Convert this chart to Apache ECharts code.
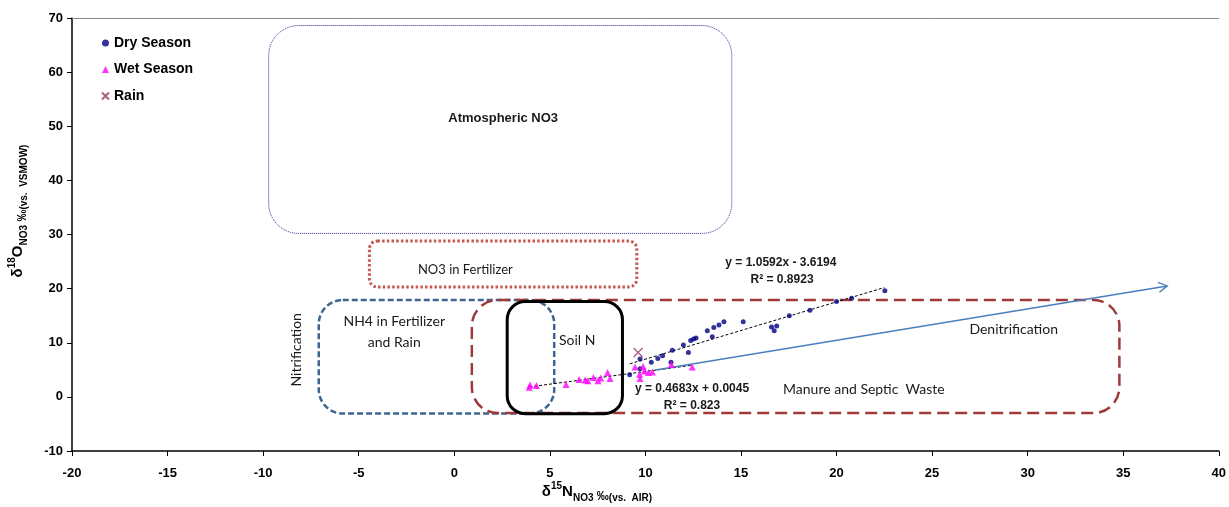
<!DOCTYPE html>
<html><head><meta charset="utf-8">
<script src="https://cdn.jsdelivr.net/npm/echarts@6/dist/echarts.min.js"></script>
<style>html,body{margin:0;padding:0;background:#fff}#c{width:1229px;height:507px}</style>
</head><body><div id="c"></div>
<script>
// ---- data ----
const drySeason = [
  [9.18,4.1],[9.72,5.2],[9.72,7.0],[10.31,6.4],[10.65,7.1],[10.9,7.6],[11.34,6.4],
  [11.41,8.6],[11.99,9.6],[12.25,8.2],[12.37,10.4],[12.52,10.7],[12.65,10.9],[13.24,12.2],
  [13.5,11.1],[13.58,12.8],[13.85,13.3],[14.11,13.9],[15.12,13.9],[16.6,12.9],[16.87,13.1],
  [16.74,12.2],[17.53,15.0],[18.61,16.0],[20.0,17.6],[20.79,18.2],[22.53,19.6]
];
const wetSeason = [
  [3.92,1.8],[3.97,2.2],[4.3,2.1],[5.85,2.3],[6.53,3.2],[6.85,3.1],[6.99,3.0],[7.28,3.6],
  [7.52,3.0],[7.66,3.5],[8.02,4.5],[8.15,3.4],[9.46,5.5],[9.7,4.2],[9.72,3.4],[9.88,5.6],
  [9.95,4.8],[10.16,4.5],[10.37,4.6],[11.36,6.0],[12.45,5.5]
];
const rain = [[9.62,8.2]];
const dryTrend = [[9.18,6.1],[22.5,20.2]];
const wetTrend = [[3.92,1.84],[12.45,5.84]];
const denitrificationArrow = [[10.54,4.97],[37.3,20.5]];
const seriesNames = ['Dry Season','Wet Season','Rain'];
const xRange = [-20, 40, 5];
const yRange = [-10, 70, 10];
const dryEquation = ['y = 1.0592x - 3.6194','R\u00b2 = 0.8923'];
const wetEquation = ['y = 0.4683x + 0.0045','R\u00b2 = 0.823'];

// ---- annotation layout (data coordinates) ----
const boxes = [
  {x0:-9.71,x1:14.52,y0:30.2,y1:68.6,r:30,color:'#24248f',width:1,dash:[1,1]},
  {x0:-4.44,x1:9.55,y0:20.3,y1:28.8,r:8,color:'#c55a55',width:3,dash:[2.5,2.2]},
  {x0:-7.09,x1:5.23,y0:-3.07,y1:17.9,r:24,color:'#3d6590',width:2.5,dash:[6,3]},
  {x0:0.92,x1:34.8,y0:-3.0,y1:17.9,r:26,color:'#9e3a3a',width:2.5,dash:[12,6]},
  {x0:2.77,x1:8.8,y0:-3.1,y1:17.6,r:18,color:'#000000',width:3,dash:null}
];
const labels = [
  {t:'Atmospheric NO3',x:2.56,y:51.4,bold:true,size:13,font:'Liberation Sans'},
  {t:'NO3 in Fertilizer',x:0.58,y:23.5,size:13},
  {t:'NH4 in Fertilizer\nand Rain',x:-3.14,y:11.9,size:14,lh:21},
  {t:'Soil N',x:6.43,y:10.5,size:14},
  {t:'Denitrification',x:29.27,y:12.4,size:14},
  {t:'Manure and Septic  Waste',x:21.43,y:1.3,size:14},
  {t:'Nitrification',x:-8.26,y:8.7,size:14,rot:true},
  {t:dryEquation[0],x:17.09,y:24.75,bold:true,size:12,font:'Liberation Sans'},
  {t:dryEquation[1],x:17.15,y:21.6,bold:true,size:12,font:'Liberation Sans'},
  {t:wetEquation[0],x:12.44,y:1.46,bold:true,size:12,font:'Liberation Sans'},
  {t:wetEquation[1],x:12.44,y:-1.68,bold:true,size:12,font:'Liberation Sans'}
];

const chart = echarts.init(document.getElementById('c'), null, {renderer:'canvas'});
const axisFont = {color:'#000', fontWeight:'bold', fontSize:13, fontFamily:'Liberation Sans, Arial'};
const crossPath = 'path://M0,0L10,10M10,0L0,10';

chart.setOption({
  animation:false,
  backgroundColor:'#fff',
  grid:{left:72,right:9,top:18,bottom:56},
  legend:{
    data:[{name:'Dry Season',icon:'circle'},{name:'Wet Season',icon:'triangle'},{name:'Rain',icon:crossPath}],
    orient:'vertical', left:96, top:31, itemWidth:7, itemHeight:7, itemGap:12.5,
    textStyle:{color:'#000',fontWeight:'bold',fontSize:14,fontFamily:'Liberation Sans, Arial',padding:[0,0,0,0]}
  },
  xAxis:[{
    type:'value', min:xRange[0], max:xRange[1], interval:xRange[2],
    axisLine:{show:true,onZero:false,lineStyle:{color:'#000',width:1.5}},
    axisTick:{show:true,inside:false,length:5,lineStyle:{color:'#000'}},
    axisLabel:Object.assign({margin:16},axisFont),
    splitLine:{show:false}
  },{
    type:'value', position:'top', min:xRange[0], max:xRange[1],
    axisLine:{show:true,onZero:false,lineStyle:{color:'#888',width:1}},
    axisTick:{show:false}, axisLabel:{show:false}, splitLine:{show:false}
  }],
  yAxis:{
    type:'value', min:yRange[0], max:yRange[1], interval:yRange[2],
    axisLine:{show:true,onZero:false,lineStyle:{color:'#000',width:1.5}},
    axisTick:{show:true,inside:false,length:5,lineStyle:{color:'#000'}},
    axisLabel:Object.assign({margin:9},axisFont),
    splitLine:{show:false}
  },
  series:[
    {name:'Dry Season',type:'scatter',data:drySeason,symbol:'circle',symbolSize:5,itemStyle:{color:'#000080'},z:5},
    {name:'Wet Season',type:'scatter',data:wetSeason,symbol:'triangle',symbolSize:7,itemStyle:{color:'#ff00ff'},z:5},
    {name:'Rain',type:'scatter',data:rain,symbol:crossPath,symbolSize:9,itemStyle:{color:'rgba(0,0,0,0)',borderColor:'#993366',borderWidth:1.3},z:5},
    {name:'dryTrend',type:'line',data:dryTrend,showSymbol:false,symbol:'none',lineStyle:{color:'#000',width:1,type:[3,2]},z:4},
    {name:'wetTrend',type:'line',data:wetTrend,showSymbol:false,symbol:'none',lineStyle:{color:'#000',width:1,type:[3,2]},z:4},
    {name:'arrow',type:'line',data:denitrificationArrow,showSymbol:false,symbol:'none',lineStyle:{color:'#4a7ebb',width:1.5},z:4}
  ]
});

function px(x,y){return chart.convertToPixel({xAxisIndex:0,yAxisIndex:0},[x,y]);}
const g = [];
boxes.forEach(b=>{
  const p0 = px(b.x0,b.y1), p1 = px(b.x1,b.y0);
  g.push({type:'rect',silent:true,z:1,
    shape:{x:p0[0],y:p0[1],width:p1[0]-p0[0],height:p1[1]-p0[1],r:b.r},
    style:{fill:null,stroke:b.color,lineWidth:b.width,lineDash:b.dash}});
});
labels.forEach(l=>{
  const p = px(l.x,l.y);
  g.push({type:'text',silent:true,z:6,x:p[0],y:p[1],rotation:l.rot?Math.PI/2:0,
    style:{text:l.t,align:'center',verticalAlign:'middle',fill:'#1a1a1a',
      font:(l.bold?'bold ':'')+l.size+'px '+(l.font||'Lato'),lineHeight:l.lh||undefined}});
});
// arrow head
(function(){
  const a = px(denitrificationArrow[0][0],denitrificationArrow[0][1]);
  const b = px(denitrificationArrow[1][0],denitrificationArrow[1][1]);
  const ang = Math.atan2(b[1]-a[1], b[0]-a[0]);
  const L = 10, w = Math.PI/6;
  g.push({type:'polyline',silent:true,z:6,
    shape:{points:[[b[0]-L*Math.cos(ang-w),b[1]-L*Math.sin(ang-w)],b,[b[0]-L*Math.cos(ang+w),b[1]-L*Math.sin(ang+w)]]},
    style:{fill:null,stroke:'#4a7ebb',lineWidth:1.5}});
})();
// axis titles
const titleRich = {
  a:{fontSize:15,fontWeight:'bold',fontFamily:'Liberation Sans',lineHeight:22,verticalAlign:'middle',fill:'#000'},
  pm:{fontSize:12,fontWeight:'bold',fontFamily:'Liberation Sans',lineHeight:17,verticalAlign:'bottom',fill:'#000'},
  sup:{fontSize:10,fontWeight:'bold',fontFamily:'Liberation Sans',lineHeight:12,verticalAlign:'top',fill:'#000'},
  sub:{fontSize:10,fontWeight:'bold',fontFamily:'Liberation Sans',lineHeight:13,verticalAlign:'bottom',fill:'#000'}
};
g.push({type:'text',silent:true,z:6,x:18,y:211,rotation:Math.PI/2,
  style:{text:'{a|\u03b4}{sup|18}{a|O}{sub|NO3} {pm|\u2030}{sub|(vs.  VSMOW)}',align:'center',verticalAlign:'middle',fill:'#000',rich:titleRich}});
g.push({type:'text',silent:true,z:6,x:597,y:492,
  style:{text:'{a|\u03b4}{sup|15}{a|N}{sub|NO3} {pm|\u2030}{sub|(vs.  AIR)}',align:'center',verticalAlign:'middle',fill:'#000',rich:titleRich}});
chart.setOption({graphic:g});
</script></body></html>
